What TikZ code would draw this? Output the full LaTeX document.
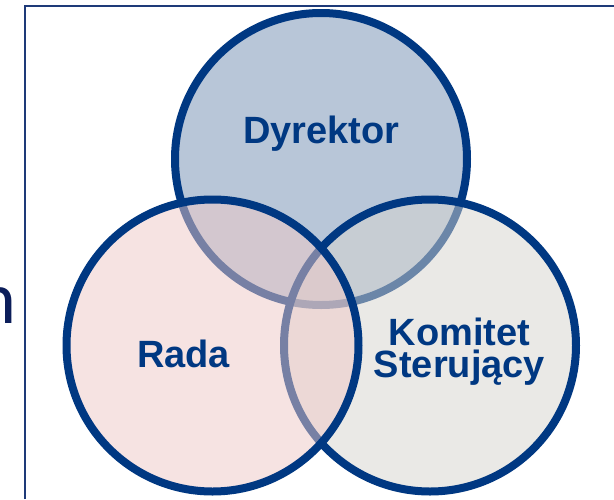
\documentclass[tikz,border=0pt]{standalone}
\usepackage{fontspec}
\setmainfont{Liberation Sans}
\newfontfamily\sidefont{Carlito}
\definecolor{navy}{RGB}{0,56,130}
\definecolor{framecol}{RGB}{30,58,120}
\definecolor{dyrfill}{HTML}{B8C6D8}
\definecolor{radafill}{HTML}{EFC9C7}
\definecolor{komfill}{HTML}{D7D5CF}
\definecolor{sidecol}{RGB}{12,30,90}
\tikzset{
  venn/.style={circle, inner sep=0pt, minimum size=292pt, draw=navy, line width=8pt},
  lbl/.style={inner sep=0pt, anchor=base, text=navy, align=center, font=\fontsize{38}{32}\selectfont\bfseries},
}
\begin{document}
\begin{tikzpicture}[x=1pt,y=-1pt]
  \useasboundingbox (0,0) rectangle (614,499);
  \fill[white] (0,0) rectangle (614,499);
  % frame
  \draw[framecol, line width=1.5pt] (25,499) -- (25,6) -- (614,6);
  % clipped side letter
  \node[inner sep=0pt, anchor=base east, text=sidecol, font=\sidefont\fontsize{74}{80}\selectfont] (side) at (17,323) {n};
  % circles
  \node[venn, fill=dyrfill] (dyr) at (321,159) {};
  \node[venn, fill=komfill, fill opacity=0.5] (kom) at (430,345.5) {};
  \node[venn, fill=radafill, fill opacity=0.5] (rada) at (212.5,345.5) {};
  % labels
  \node[lbl] (tdyr) at (321.5,143) {Dyrektor};
  \node[lbl] (trada) at (183.5,367) {Rada};
  \node[lbl] (tkom) at (459.5,377) {Komitet\\Sterujący};
\end{tikzpicture}
\end{document}
